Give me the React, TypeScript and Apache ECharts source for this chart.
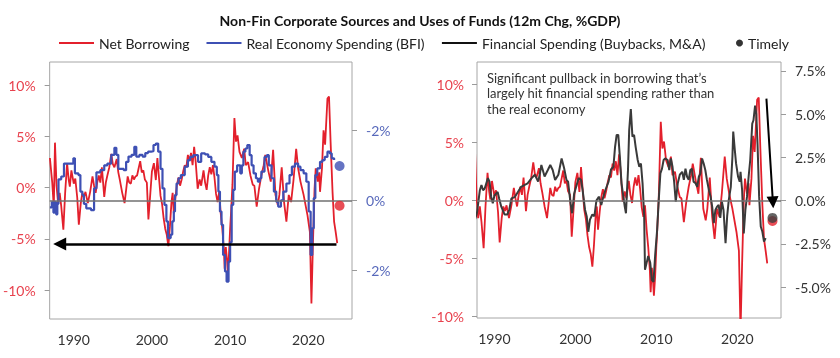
import React, { useEffect, useRef } from 'react';
import * as echarts from 'echarts';

// ---- Data (year, % of GDP) ----
const netBorrowing: [number, number][] = [
  [1986.95, 2.9], [1987.25, 0.5], [1987.45, -1.9], [1987.6, 4.4], [1987.8, 0.2], [1988.0, -1.5], [1988.2, -0.5],
  [1988.4, -1.8], [1988.67, -4.1], [1988.9, -0.5], [1989.15, 2.4], [1989.35, 0.8], [1989.5, 0.1], [1989.7, 1.7],
  [1990.0, 0.4], [1990.2, 0.9], [1990.45, -1.0], [1990.65, -3.6], [1990.9, -1.5], [1991.1, -0.5], [1991.3, -0.9],
  [1991.5, -0.4], [1991.8, -1.5], [1992.1, -0.4], [1992.4, 1.1], [1992.6, 0.2], [1992.8, -0.5], [1993.0, 0.5],
  [1993.2, 1.2], [1993.4, 0.5], [1993.6, 2.0], [1993.9, -0.9], [1994.1, 0.5], [1994.3, 1.2], [1994.55, 2.0],
  [1994.8, 3.3], [1995.0, 2.3], [1995.2, 2.0], [1995.5, 2.8], [1995.7, 1.5], [1995.9, 0.75], [1996.2, -0.5],
  [1996.5, -1.5], [1996.7, -0.2], [1996.9, 1.1], [1997.1, 0.5], [1997.3, 0.4], [1997.5, 1.2], [1997.7, 0.8],
  [1997.9, 1.1], [1998.1, 1.2], [1998.3, 1.9], [1998.5, 2.6], [1998.7, 1.5], [1998.9, 1.7], [1999.1, 0.8],
  [1999.35, 0.5], [1999.55, -3.1], [1999.8, -0.5], [2000.0, 1.6], [2000.25, 2.4], [2000.5, 0.75], [2000.7, 2.9],
  [2000.9, 1.0], [2001.1, -0.8], [2001.3, -1.6], [2001.5, -3.0], [2001.7, -4.0], [2001.9, -4.6], [2002.1, -5.7],
  [2002.3, -3.8], [2002.5, -1.4], [2002.65, -0.5], [2002.8, -2.5], [2003.0, -1.0], [2003.2, 0.3], [2003.4, 1.0],
  [2003.6, 0.2], [2003.8, 0.8], [2004.0, 1.6], [2004.2, 2.2], [2004.4, 2.0], [2004.6, 3.2], [2004.8, 2.6],
  [2005.0, 3.4], [2005.2, 2.2], [2005.4, 4.0], [2005.6, 2.5], [2005.85, -0.1], [2006.1, 0.8], [2006.3, 0.2],
  [2006.6, 1.7], [2006.8, 0.5], [2007.0, -0.2], [2007.2, 1.2], [2007.4, 2.0], [2007.6, 1.3], [2007.8, 2.2],
  [2008.0, 1.0], [2008.2, -0.6], [2008.4, -1.4], [2008.6, -0.4], [2008.8, -2.5], [2009.0, -4.0], [2009.2, -6.0],
  [2009.3, -7.9], [2009.45, -5.8], [2009.6, -7.0], [2009.7, -8.2], [2009.85, -6.6], [2010.0, -4.0], [2010.1, -2.7],
  [2010.3, 0.3], [2010.55, 6.8], [2010.75, 4.5], [2010.95, 5.1], [2011.2, 3.5], [2011.5, 2.9], [2011.8, 3.8],
  [2012.0, 2.2], [2012.3, 2.5], [2012.6, 1.2], [2012.9, 0.3], [2013.1, 0.2], [2013.4, -1.85], [2013.7, -0.1],
  [2014.0, 1.2], [2014.3, 2.2], [2014.5, 3.2], [2014.9, 1.6], [2015.2, 0.6], [2015.5, 3.7], [2015.8, -0.7],
  [2016.1, -1.7], [2016.3, -0.7], [2016.6, 2.0], [2016.9, -1.4], [2017.2, -3.3], [2017.5, -0.7], [2017.8, -1.4],
  [2018.1, 0.7], [2018.45, 3.8], [2018.7, 1.9], [2019.0, 0.6], [2019.4, -0.7], [2019.9, -2.7], [2020.2, -4.3],
  [2020.4, -11.3], [2020.6, -5.3], [2020.8, -0.1], [2020.95, 1.9], [2021.2, 0.6], [2021.4, 1.5], [2021.5, -0.4],
  [2021.75, 1.9], [2021.95, 5.6], [2022.15, 4.2], [2022.45, 8.7], [2022.65, 8.9], [2022.85, 4.5], [2023.1, -0.4],
  [2023.3, -3.3], [2023.5, -4.3], [2023.7, -5.4],
];

const realEconomySpending: [number, number][] = [
  [1986.95, -0.2], [1987.2, -0.05], [1987.4, -0.35], [1987.55, -0.05], [1987.75, -0.4], [1987.9, -0.1],
  [1988.05, 0.6], [1988.4, 0.68], [1988.75, 1.05], [1989.2, 1.05], [1989.6, 1.05], [1989.95, 1.2], [1990.15, 0.77],
  [1990.6, 0.72], [1990.85, 0.25], [1991.1, 0.15], [1991.3, -0.1], [1991.6, -0.23], [1992.2, -0.28], [1992.6, 0.34],
  [1992.9, 0.8], [1993.4, 0.86], [1993.9, 1.0], [1994.3, 1.05], [1994.8, 1.3], [1995.2, 1.5], [1995.45, 1.3],
  [1995.7, 0.9], [1996.4, 0.86], [1996.7, 1.1], [1997.0, 1.25], [1997.4, 1.3], [1997.75, 1.53], [1998.0, 1.25],
  [1998.4, 1.3], [1998.8, 1.25], [1999.15, 1.35], [1999.5, 1.39], [1999.9, 1.4], [2000.2, 1.58], [2000.5, 1.62],
  [2000.8, 1.39], [2001.1, 0.9], [2001.35, 0.34], [2001.6, -0.13], [2001.85, -0.6], [2002.05, -1.08], [2002.4, -0.98],
  [2002.6, -0.6], [2002.8, -0.32], [2002.95, 0.15], [2003.15, 0.48], [2003.4, 0.63], [2003.7, 0.72], [2004.2, 0.96],
  [2004.6, 1.15], [2004.9, 1.24], [2005.3, 1.29], [2005.9, 1.1], [2006.3, 1.34], [2006.8, 1.31], [2007.2, 1.24],
  [2007.6, 1.1], [2008.0, 0.96], [2008.3, 0.72], [2008.5, 0.25], [2008.7, -0.32], [2008.9, -0.7], [2009.1, -1.56],
  [2009.35, -2.03], [2009.55, -2.32], [2009.8, -1.75], [2010.0, -1.2], [2010.2, -0.13], [2010.4, 0.3], [2010.6, 0.82],
  [2010.9, 1.0], [2011.3, 0.77], [2011.5, 1.0], [2011.7, 1.39], [2011.95, 1.48], [2012.2, 1.58], [2012.5, 1.29],
  [2012.75, 1.0], [2013.0, 0.77], [2013.3, 0.63], [2013.55, 0.53], [2013.8, 0.63], [2014.0, 0.82], [2014.4, 1.24],
  [2014.7, 1.29], [2014.95, 1.0], [2015.3, 0.63], [2015.6, 0.25], [2015.9, -0.04], [2016.15, -0.18], [2016.5, 0.0],
  [2016.8, 0.25], [2017.2, 0.48], [2017.6, 0.72], [2017.9, 0.96], [2018.3, 1.05], [2018.7, 0.96], [2019.0, 0.86],
  [2019.4, 0.77], [2019.75, 0.53], [2020.05, -0.32], [2020.3, -1.56], [2020.5, -0.8], [2020.7, 0.06], [2020.9, 0.72],
  [2021.15, 0.91], [2021.5, 1.1], [2021.8, 1.15], [2022.1, 1.24], [2022.45, 1.39], [2022.75, 1.34], [2023.0, 1.2],
  [2023.3, 1.15],
];

const financialSpending: [number, number][] = [
  [1987.6, -1.1], [1987.85, -0.7], [1988.2, 0.6], [1988.4, 0.9], [1988.6, 0.6], [1988.8, 0.7], [1989.0, 1.0],
  [1989.2, 1.3], [1989.4, 1.1], [1989.6, 0.23], [1989.8, -0.15], [1990.0, 0.3], [1990.4, 0.5], [1990.6, 0.1],
  [1990.85, -0.35], [1991.25, -0.8], [1991.6, -0.8], [1991.85, -0.5], [1992.1, 0.13], [1992.5, 0.2], [1992.9, 0.5],
  [1993.3, 0.8], [1993.7, 0.9], [1994.1, 1.0], [1994.6, 1.3], [1995.0, 1.5], [1995.4, 1.1], [1995.6, 1.5],
  [1995.8, 2.06], [1996.2, 1.4], [1996.6, 1.77], [1996.9, 2.06], [1997.2, 1.77], [1997.5, 1.2], [1997.9, 1.5],
  [1998.3, 2.44], [1998.6, 1.9], [1998.9, 1.2], [1999.1, 1.1], [1999.4, -0.15], [1999.6, -0.73], [1999.85, 0.4],
  [2000.1, 0.8], [2000.4, 1.3], [2000.7, 1.2], [2000.9, 0.6], [2001.2, -0.54], [2001.4, -0.9], [2001.6, -1.8],
  [2001.8, -1.1], [2002.1, -0.8], [2002.35, -0.9], [2002.6, 0.0], [2002.9, 0.23], [2003.2, -0.25], [2003.4, 0.13],
  [2003.7, 0.6], [2004.1, 1.1], [2004.4, 1.8], [2004.7, 1.96], [2004.9, 3.1], [2005.1, 3.8], [2005.3, 3.8],
  [2005.5, 2.5], [2005.7, 1.0], [2006.1, -0.35], [2006.25, -0.73], [2006.5, 1.77], [2006.65, 4.1], [2006.85, 5.3],
  [2007.05, 3.7], [2007.25, 3.8], [2007.45, 3.1], [2007.7, 2.35], [2007.9, 1.96], [2008.1, 2.15], [2008.3, 1.0],
  [2008.5, -0.9], [2008.6, -4.0], [2008.8, -3.6], [2009.0, -3.2], [2009.25, -3.6], [2009.45, -4.6], [2009.65, -4.7],
  [2009.85, -3.2], [2010.1, -1.7], [2010.3, 0.04], [2010.5, 1.58], [2010.7, 1.85], [2010.9, 2.35], [2011.1, 2.44],
  [2011.4, 2.35], [2011.6, 1.77], [2011.8, 2.44], [2012.0, 1.96], [2012.2, 1.1], [2012.4, -0.06], [2012.65, 1.0],
  [2012.9, 1.5], [2013.2, 1.67], [2013.4, 1.2], [2013.6, 1.85], [2013.8, 1.38], [2014.0, 1.2], [2014.2, 1.77],
  [2014.4, 1.85], [2014.6, 1.1], [2014.85, 1.0], [2015.05, 0.8], [2015.25, 1.38], [2015.45, 1.58], [2015.65, 2.44],
  [2015.85, 2.15], [2016.05, 1.77], [2016.25, 1.2], [2016.5, 0.6], [2016.7, 0.23], [2016.9, -0.35], [2017.1, -1.3],
  [2017.3, -0.54], [2017.5, -0.35], [2017.7, -0.25], [2017.9, -1.0], [2018.1, -0.06], [2018.3, -0.54], [2018.55, -2.46],
  [2018.75, -0.9], [2018.95, 0.04], [2019.2, 0.8], [2019.4, 2.54], [2019.5, 4.0], [2019.7, 2.9], [2019.85, 2.15],
  [2020.1, 1.38], [2020.3, 1.1], [2020.4, 1.67], [2020.6, 0.6], [2020.8, -1.9], [2021.0, -0.54], [2021.2, 0.23],
  [2021.4, 1.38], [2021.6, 2.35], [2021.85, 4.46], [2022.0, 4.65], [2022.2, 5.5], [2022.35, 5.0], [2022.5, 3.3],
  [2022.7, 0.23], [2022.9, -1.5], [2023.1, -1.8], [2023.3, -2.37], [2023.5, -2.17],
];

// Timely (latest) readings
const timelyNetBorrowing = -1.75;
const timelyRealEconomy = 0.98;
const timelyFinancial = -1.0;
const timelyYearLeft = 2024.0;
const timelyYearRight = 2024.35;

// Tick labels
const yearTicks = [1990, 2000, 2010, 2020];
const leftRedTicks = [-10, -5, 0, 5, 10];
const leftBlueTicks = [-2, 0, 2];
const rightRedTicks = [-10, -5, 0, 5, 10];
const rightBlackTicks = [-5, -2.5, 0, 2.5, 5, 7.5];

const annotation = 'Significant pullback in borrowing that\u2019s\nlargely hit financial spending rather than\nthe real economy';

const RED = '#e3202c';
const BLUE = '#3e50b4';
const DARK = '#3a3a3a';
const FONT = 'Lato, "Open Sans", sans-serif';

const tickStyle = { show: true, length: 5, lineStyle: { color: '#9a9a9a', width: 1 } };

export default function App() {
  const ref = useRef<HTMLDivElement>(null);
  useEffect(() => {
    if (!ref.current) return;
    const chart = echarts.init(ref.current, undefined, { renderer: 'svg' });
    const xAxisBase = (gridIndex: number, min: number, max: number) => ({
      type: 'value', gridIndex, min, max,
      axisLine: { show: false }, axisTick: { show: false }, splitLine: { show: false },
      axisLabel: {
        customValues: yearTicks,
        fontSize: 14, color: '#333', margin: 13, fontFamily: FONT,
        formatter: (v: number) => String(v),
      },
    });
    const arrowMark = (from: number[], to: number[], width: number, size: number) => ({
      silent: true, label: { show: false }, animation: false,
      symbol: ['none', 'triangle'], symbolSize: size,
      itemStyle: { color: '#000' },
      lineStyle: { color: '#000', width, type: 'solid' },
      emphasis: { disabled: true },
      data: [[{ coord: from }, { coord: to }]],
    });
    const option: any = {
      animation: false,
      textStyle: { fontFamily: FONT },
      title: {
        text: 'Non-Fin Corporate Sources and Uses of Funds (12m Chg, %GDP)',
        left: 'center', top: 8,
        textStyle: { fontSize: 14, fontWeight: 'bold', color: '#111', fontFamily: FONT },
      },
      legend: [
        {
          left: 54, top: 31, itemWidth: 35, itemHeight: 2, itemGap: 17, selectedMode: false,
          textStyle: { fontSize: 14, color: '#222', fontFamily: FONT },
          data: [
            { name: 'Net Borrowing', icon: 'rect' },
            { name: 'Real Economy Spending (BFI)', icon: 'rect' },
            { name: 'Financial Spending (Buybacks, M&A)', icon: 'rect', itemStyle: { color: '#111' } },
          ],
        },
        {
          left: 731, top: 31, itemWidth: 7, itemHeight: 7, selectedMode: false,
          textStyle: { fontSize: 14, color: '#222', fontFamily: FONT },
          data: [{ name: 'Timely', icon: 'circle', itemStyle: { color: '#000' } }],
        },
      ],
      grid: [
        { left: 49, top: 62, width: 303, height: 257, show: true, borderColor: '#a6a6a6', borderWidth: 1 },
        { left: 477, top: 62, width: 304, height: 256, show: true, borderColor: '#a6a6a6', borderWidth: 1 },
      ],
      xAxis: [xAxisBase(0, 1986.92, 2025.59), xAxisBase(1, 1987.85, 2025.4)],
      yAxis: [
        {
          type: 'value', gridIndex: 0, position: 'left', min: -12.81, max: 12.27,
          axisLine: { show: false }, splitLine: { show: false },
          axisTick: { ...tickStyle, customValues: leftRedTicks },
          axisLabel: { customValues: leftRedTicks, fontSize: 14, color: '#e8424e', margin: 14, fontFamily: FONT, formatter: (v: number) => v + '%' },
        },
        {
          type: 'value', gridIndex: 0, position: 'right', min: -3.39, max: 3.95,
          axisLine: { show: false }, splitLine: { show: false },
          axisTick: { ...tickStyle, customValues: leftBlueTicks },
          axisLabel: { customValues: leftBlueTicks, fontSize: 14, color: '#5869bb', margin: 14, fontFamily: FONT, formatter: (v: number) => (v === 0 ? '0%' : '-' + Math.abs(v) + '%') },
        },
        {
          type: 'value', gridIndex: 1, position: 'left', min: -10.12, max: 11.96,
          axisLine: { show: false }, splitLine: { show: false },
          axisTick: { ...tickStyle, customValues: rightRedTicks },
          axisLabel: { customValues: rightRedTicks, fontSize: 14, color: '#e8424e', margin: 13, fontFamily: FONT, formatter: (v: number) => v + '%' },
        },
        {
          type: 'value', gridIndex: 1, position: 'right', min: -6.79, max: 8.02,
          axisLine: { show: false }, splitLine: { show: false },
          axisTick: { ...tickStyle, customValues: rightBlackTicks },
          axisLabel: { customValues: rightBlackTicks, fontSize: 14, color: '#333', margin: 14, fontFamily: FONT, formatter: (v: number) => v.toFixed(1) + '%' },
        },
      ],
      graphic: [
        {
          type: 'text', left: 487, top: 70,
          style: { text: annotation, font: '13px ' + FONT, fill: '#333', lineHeight: 15.6 },
        },
      ],
      series: [
        // Left chart
        {
          name: 'Net Borrowing', type: 'line', xAxisIndex: 0, yAxisIndex: 0, data: netBorrowing,
          symbol: 'none', showSymbol: false, lineStyle: { color: RED, width: 1.8 }, itemStyle: { color: RED },
          z: 2,
        },
        {
          name: 'Real Economy Spending (BFI)', type: 'line', xAxisIndex: 0, yAxisIndex: 1, data: realEconomySpending,
          step: 'end', symbol: 'none', showSymbol: false, lineStyle: { color: BLUE, width: 2.2 }, itemStyle: { color: BLUE },
          z: 3,
          markLine: {
            silent: true, symbol: 'none', label: { show: false }, animation: false,
            lineStyle: { color: '#707070', width: 1.5, type: 'solid' },
            data: [{ yAxis: 0 }],
          },
        },
        {
          name: 'Arrow', type: 'line', xAxisIndex: 0, yAxisIndex: 0, data: [], z: 5,
          markLine: arrowMark([2023.6, -5.5], [1988.2, -5.5], 2.5, 13),
        },
        {
          name: 'Timely', type: 'scatter', xAxisIndex: 0, yAxisIndex: 0, symbolSize: 10, z: 6,
          data: [{ value: [timelyYearLeft, timelyNetBorrowing], itemStyle: { color: RED } }],
        },
        {
          name: 'Timely', type: 'scatter', xAxisIndex: 0, yAxisIndex: 1, symbolSize: 10, z: 6,
          data: [{ value: [timelyYearLeft, timelyRealEconomy], itemStyle: { color: BLUE } }],
        },
        // Right chart
        {
          name: 'Net Borrowing', type: 'line', xAxisIndex: 1, yAxisIndex: 2, data: netBorrowing,
          symbol: 'none', showSymbol: false, lineStyle: { color: RED, width: 1.8 }, itemStyle: { color: RED },
          z: 2,
        },
        {
          name: 'Financial Spending (Buybacks, M&A)', type: 'line', xAxisIndex: 1, yAxisIndex: 3, data: financialSpending,
          symbol: 'none', showSymbol: false, lineStyle: { color: DARK, width: 2 }, itemStyle: { color: '#111' },
          z: 3,
          markLine: {
            silent: true, symbol: 'none', label: { show: false }, animation: false,
            lineStyle: { color: '#707070', width: 1.5, type: 'solid' },
            data: [{ yAxis: 0 }],
          },
        },
        {
          name: 'Arrow2', type: 'line', xAxisIndex: 1, yAxisIndex: 3, data: [], z: 5,
          markLine: arrowMark([2023.6, 5.9], [2024.4, -0.1], 2, 12),
        },
        {
          name: 'Timely', type: 'scatter', xAxisIndex: 1, yAxisIndex: 2, symbolSize: 10, z: 6,
          data: [{ value: [timelyYearRight, timelyNetBorrowing], itemStyle: { color: RED } }],
        },
        {
          name: 'Timely', type: 'scatter', xAxisIndex: 1, yAxisIndex: 3, symbolSize: 10, z: 7,
          data: [{ value: [timelyYearRight, timelyFinancial], itemStyle: { color: '#3d3d3d' } }],
        },
      ],
    };
    chart.setOption(option);
    return () => chart.dispose();
  }, []);
  return <div ref={ref} style={{ position: 'fixed', left: 0, top: 0, width: 840, height: 358 }} />;
}
